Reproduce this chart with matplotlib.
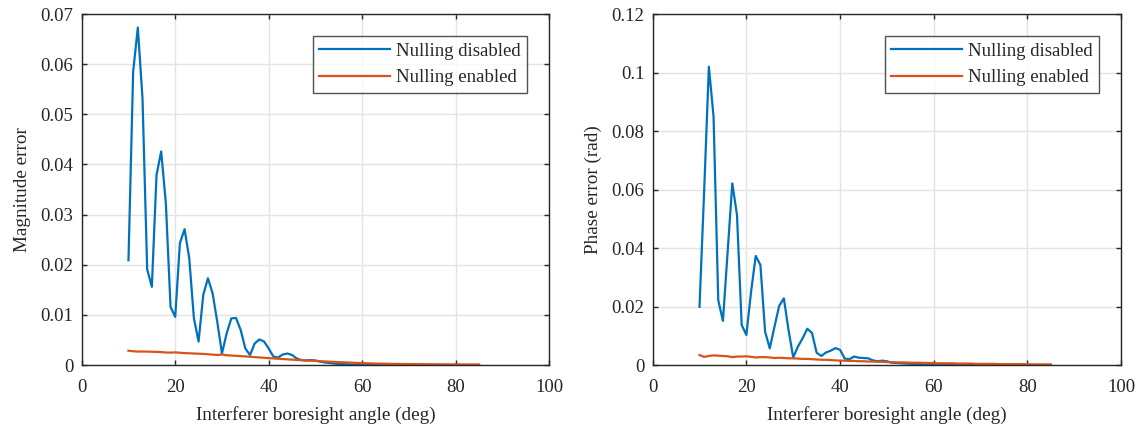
import matplotlib
matplotlib.use("Agg")
import matplotlib.pyplot as plt
import numpy as np

# interferer angle, 1 deg steps
angle = list(range(10, 86))

# left panel: magnitude error
mag_off = [
    0.0209, 0.0585, 0.0673, 0.0532, 0.0191, 0.0156, 0.0379, 0.0426, 0.0322, 0.0116,
    0.0096, 0.0243, 0.0271, 0.0213, 0.0093, 0.0047, 0.0140, 0.0173, 0.0143, 0.0086,
    0.0023, 0.0063, 0.0093, 0.0094, 0.0070, 0.0033, 0.0020, 0.0043, 0.0051, 0.0047,
    0.0033, 0.0017, 0.0015, 0.0021, 0.0023, 0.0020, 0.0013, 0.0010, 0.0009, 0.0010,
    0.0009, 0.0007, 0.0005, 0.0004, 0.0003, 0.0002, 0.0002, 0.00015, 0.0001, 0.0001,
    0.00008, 0.00007, 0.00007, 0.00006, 0.00006, 0.00005, 0.00005, 0.00005, 0.00004, 0.00004,
    0.00004, 0.00004, 0.00003, 0.00003, 0.00003, 0.00003, 0.00003, 0.00002, 0.00002, 0.00002,
    0.00002, 0.00002, 0.00002, 0.00002, 0.00001, 0.00001,
]
mag_on = [
    0.00285, 0.00275, 0.00268, 0.00270, 0.00268, 0.00265, 0.00262, 0.00258, 0.00250, 0.00248,
    0.00253, 0.00245, 0.00238, 0.00234, 0.00230, 0.00226, 0.00222, 0.00215, 0.00208, 0.00200,
    0.00210, 0.00195, 0.00190, 0.00184, 0.00178, 0.00172, 0.00165, 0.00158, 0.00152, 0.00145,
    0.00138, 0.00132, 0.00126, 0.00120, 0.00114, 0.00108, 0.00102, 0.00097, 0.00092, 0.00087,
    0.00082, 0.00077, 0.00072, 0.00067, 0.00062, 0.00058, 0.00054, 0.00050, 0.00046, 0.00042,
    0.00038, 0.00035, 0.00032, 0.00030, 0.00028, 0.00026, 0.00024, 0.00022, 0.00021, 0.00020,
    0.00019, 0.00018, 0.00017, 0.00016, 0.00015, 0.00014, 0.00014, 0.00013, 0.00013, 0.00012,
    0.00012, 0.00011, 0.00011, 0.00010, 0.00010, 0.00010,
]

# right panel: phase error (rad)
ph_off = [
    0.0199, 0.0598, 0.1020, 0.0849, 0.0222, 0.0151, 0.0386, 0.0621, 0.0513, 0.0137,
    0.0103, 0.0250, 0.0373, 0.0342, 0.0114, 0.0057, 0.0131, 0.0202, 0.0228, 0.0120,
    0.0026, 0.0063, 0.0091, 0.0124, 0.0110, 0.0042, 0.0031, 0.0043, 0.0049, 0.0058,
    0.0052, 0.0022, 0.0020, 0.0029, 0.0025, 0.0024, 0.0023, 0.0016, 0.0013, 0.0015,
    0.0013, 0.0008, 0.0007, 0.0006, 0.0005, 0.0004, 0.0004, 0.0003, 0.0003, 0.0003,
    0.0002, 0.0002, 0.0002, 0.0002, 0.0002, 0.00015, 0.00015, 0.00015, 0.00012, 0.00012,
    0.00012, 0.0001, 0.0001, 0.0001, 0.0001, 0.00008, 0.00008, 0.00008, 0.00007, 0.00007,
    0.00006, 0.00006, 0.00005, 0.00005, 0.00005, 0.00004,
]
ph_on = [
    0.0034, 0.0028, 0.0031, 0.0033, 0.0032, 0.0031, 0.0030, 0.0027, 0.0029, 0.0029,
    0.0030, 0.0028, 0.0026, 0.0027, 0.0027, 0.0026, 0.0024, 0.0025, 0.0024, 0.0023,
    0.0023, 0.0022, 0.0021, 0.0021, 0.0020, 0.0019, 0.0018, 0.0018, 0.0017, 0.0016,
    0.0015, 0.0015, 0.0014, 0.0014, 0.0013, 0.0013, 0.0012, 0.0012, 0.0011, 0.0011,
    0.0010, 0.0010, 0.0009, 0.0009, 0.0009, 0.0008, 0.0008, 0.0008, 0.0007, 0.0007,
    0.0007, 0.0006, 0.0006, 0.0006, 0.0006, 0.0005, 0.0005, 0.0005, 0.0005, 0.0004,
    0.0004, 0.0004, 0.0004, 0.0004, 0.0003, 0.0003, 0.0003, 0.0003, 0.0003, 0.0003,
    0.0003, 0.0002, 0.0002, 0.0002, 0.0002, 0.0002,
]

labels = ["Nulling disabled", "Nulling enabled"]
xticks = [0, 20, 40, 60, 80, 100]
mag_yticks = [0, 0.01, 0.02, 0.03, 0.04, 0.05, 0.06, 0.07]
mag_yticklabels = ["0", "0.01", "0.02", "0.03", "0.04", "0.05", "0.06", "0.07"]
ph_yticks = [0, 0.02, 0.04, 0.06, 0.08, 0.1, 0.12]
ph_yticklabels = ["0", "0.02", "0.04", "0.06", "0.08", "0.1", "0.12"]

BLUE = "#0072BD"
ORANGE = "#D95319"
AXC = "#262626"

plt.rcParams["font.family"] = ["Liberation Serif", "DejaVu Serif"]

fig = plt.figure(figsize=(11.4, 4.32), dpi=100)
ax1 = fig.add_axes([0.0717, 0.155, 0.410, 0.8125])
ax2 = fig.add_axes([0.5725, 0.155, 0.411, 0.8125])


def style(ax, yt, ytl, ymax, ylabel):
    ax.set_xlim(0, 100)
    ax.set_ylim(0, ymax)
    ax.set_xticks(xticks)
    ax.set_xticklabels([str(t) for t in xticks])
    ax.set_yticks(yt)
    ax.set_yticklabels(ytl)
    ax.grid(True, color="#e3e3e3", linewidth=1.0)
    ax.set_axisbelow(True)
    ax.tick_params(direction="in", top=True, right=True, length=3.6, width=1,
                   colors=AXC, labelsize=13.5)
    ax.tick_params(axis="x", pad=10)
    ax.tick_params(axis="y", pad=6)
    for sp in ax.spines.values():
        sp.set_color(AXC)
        sp.set_linewidth(1.0)
    ax.set_xlabel("Interferer boresight angle (deg)", fontsize=13.8, color=AXC, labelpad=7)
    ax.set_ylabel(ylabel, fontsize=13.8, color=AXC, labelpad=7)
    leg = ax.legend(loc="upper right", fontsize=13.5, frameon=True, fancybox=False,
                    borderaxespad=1.17, handlelength=3.8, borderpad=0.35,
                    labelspacing=0.5, handletextpad=0.3)
    leg.get_frame().set_edgecolor(AXC)
    leg.get_frame().set_linewidth(1.0)
    for t in leg.get_texts():
        t.set_color(AXC)


ax1.plot(angle, mag_off, color=BLUE, linewidth=1.6, label=labels[0])
ax1.plot(angle, mag_on, color=ORANGE, linewidth=1.6, label=labels[1])
style(ax1, mag_yticks, mag_yticklabels, 0.07, "Magnitude error")

ax2.plot(angle, ph_off, color=BLUE, linewidth=1.6, label=labels[0])
ax2.plot(angle, ph_on, color=ORANGE, linewidth=1.6, label=labels[1])
style(ax2, ph_yticks, ph_yticklabels, 0.12, "Phase error (rad)")

fig.savefig("out.png", dpi=100)
